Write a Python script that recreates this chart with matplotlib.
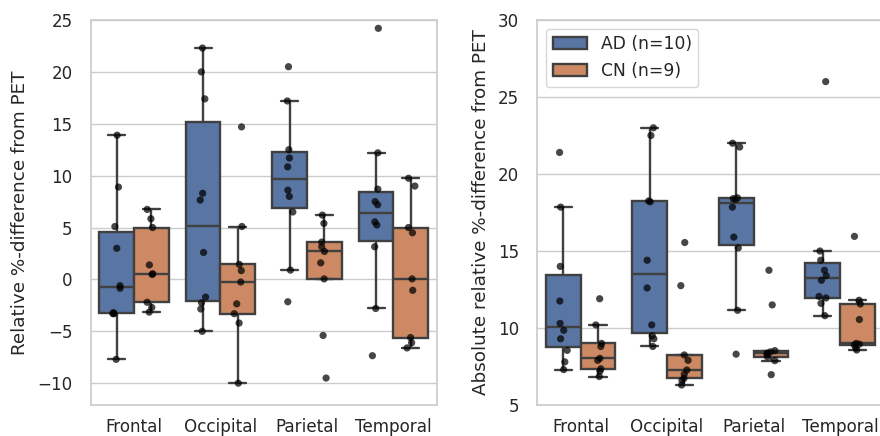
import numpy as np
import pandas as pd
import seaborn as sns
import matplotlib
matplotlib.use("Agg")
from matplotlib import pyplot as plt

regions = ["Frontal", "Occipital", "Parietal", "Temporal"]
groups = ["AD (n=10)", "CN (n=9)"]

# relative %-difference, one list per region (Frontal, Occipital, Parietal, Temporal)
rel_ad = [
    [13.9, 8.9, 5.1, 3.0, -0.6, -0.85, -3.2, -3.3, -3.3, -7.7],
    [22.3, 20.0, 17.4, 8.3, 7.65, 2.6, -1.7, -2.25, -2.85, -5.0],
    [20.5, 17.2, 12.5, 11.7, 10.85, 8.6, 8.0, 6.5, 0.9, -2.15],
    [24.2, 12.2, 8.7, 7.5, 7.2, 5.55, 5.25, 3.15, -2.8, -7.35],
]
rel_cn = [
    [6.75, 5.85, 5.0, 1.4, 0.55, 0.48, -2.2, -2.7, -3.15],
    [14.7, 5.1, 1.45, 0.85, -0.25, -2.35, -3.3, -4.2, -10.0],
    [6.2, 5.4, 3.6, 3.15, 2.7, 1.6, 0.05, -5.4, -9.5],
    [9.75, 9.0, 5.0, 4.5, 0.05, -1.05, -5.6, -6.1, -6.6],
]

# absolute relative %-difference
abs_ad = [
    [21.4, 17.85, 14.0, 11.75, 10.3, 9.85, 9.3, 8.55, 7.8, 7.3],
    [23.0, 22.5, 18.25, 18.2, 14.4, 12.6, 10.2, 9.5, 9.3, 8.8],
    [22.0, 21.75, 18.45, 18.4, 18.35, 17.85, 15.9, 15.2, 11.15, 8.3],
    [26.0, 15.0, 14.4, 13.75, 13.4, 13.1, 12.05, 11.95, 11.6, 10.8],
]
abs_cn = [
    [11.9, 10.2, 9.0, 8.8, 8.03, 7.9, 7.35, 7.2, 6.85],
    [15.55, 12.75, 8.25, 7.9, 7.27, 7.0, 6.73, 6.6, 6.3],
    [13.75, 11.5, 8.53, 8.45, 8.36, 8.3, 8.14, 7.88, 6.97],
    [15.95, 11.8, 11.56, 10.55, 9.0, 8.95, 8.9, 8.7, 8.57],
]


def long_frame(ad, cn):
    rows = []
    for reg, vals in zip(regions, ad):
        rows += [(reg, groups[0], v) for v in vals]
    for reg, vals in zip(regions, cn):
        rows += [(reg, groups[1], v) for v in vals]
    return pd.DataFrame(rows, columns=["region", "group", "value"])


sns.set_theme(style="whitegrid", font_scale=1.1)
np.random.seed(3)  # only for the strip jitter

fig, axes = plt.subplots(1, 2, figsize=(8.8, 4.36), dpi=100)
axes[0].set_position([0.1031, 0.0711, 0.3932, 0.883])
axes[1].set_position([0.6106, 0.0711, 0.3932, 0.883])

panels = [
    (axes[0], long_frame(rel_ad, rel_cn), "Relative %-difference from PET", (-12.1, 25), np.arange(-10, 26, 5)),
    (axes[1], long_frame(abs_ad, abs_cn), "Absolute relative %-difference from PET", (5, 30), np.arange(5, 31, 5)),
]

for ax, df, ylab, ylim, yticks in panels:
    sns.boxplot(data=df, x="region", y="value", hue="group", order=regions,
                hue_order=groups, showfliers=False, linewidth=1.7,
                linecolor="#404040", ax=ax)
    sns.stripplot(data=df, x="region", y="value", hue="group", order=regions,
                  hue_order=groups, dodge=True, palette=["black", "black"],
                  alpha=0.72, size=5.2, legend=False, ax=ax)
    ax.set_xlabel("")
    ax.set_ylabel(ylab, labelpad=6)
    ax.set_ylim(*ylim)
    ax.set_yticks(yticks)
    ax.tick_params(axis="y", pad=7)

axes[0].get_legend().remove()
axes[1].legend(loc="upper left", fontsize=12.3)

fig.savefig("out.png", dpi=100)
